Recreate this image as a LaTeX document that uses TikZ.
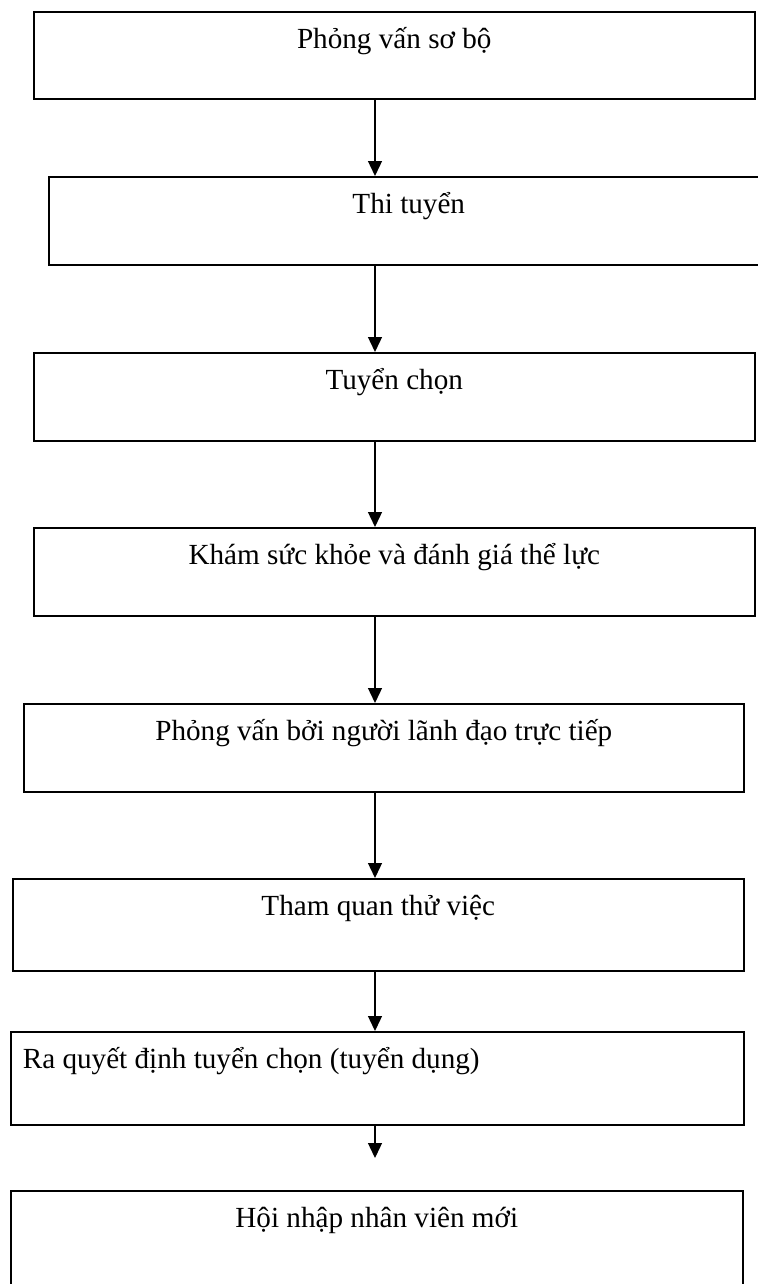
\documentclass[tikz,border=0pt]{standalone}
\usepackage{fontspec}
\setmainfont{Liberation Serif}
\usetikzlibrary{arrows.meta}

\begin{document}
\begin{tikzpicture}[
  x=0.02cm, y=-0.02cm,
  stage/.style={draw, rectangle, line width=0.95pt, inner sep=0pt, anchor=north west,
    text height=0.73cm, font=\fontsize{16.6}{20}\selectfont},
  flow/.style={draw, line width=0.75pt, -{Triangle[length=0.3cm, width=0.28cm]}}
]
\useasboundingbox (0,0) rectangle (757,1284);
\coordinate (axis) at (375,0);
\node[stage, minimum width=14.42cm, text depth=1.01cm] (s1) at (33,11) {Phỏng vấn sơ bộ};
\node[stage, minimum width=14.40cm, text depth=1.03cm] (s2) at (48,176) {Thi tuyển};
\node[stage, minimum width=14.42cm, text depth=1.03cm] (s3) at (33,352) {Tuyển chọn};
\node[stage, minimum width=14.42cm, text depth=1.03cm] (s4) at (33,527) {Khám sức khỏe và đánh giá thể lực};
\node[stage, minimum width=14.40cm, text depth=1.03cm] (s5) at (23,703) {Phỏng vấn bởi người lãnh đạo trực tiếp};
\node[stage, minimum width=14.62cm, text depth=1.11cm] (s6) at (12,878) {Tham quan thử việc};
\node[stage, text width=14.18cm, inner xsep=0.24cm, align=flush left, text depth=1.13cm] (s7) at (10,1031) {Ra quyết định tuyển chọn (tuyển dụng)};
\node[stage, minimum width=14.64cm, text depth=1.26cm] (s8) at (10,1190) {Hội nhập nhân viên mới};
\coordinate (end) at (375,1158);

\draw[flow] (s1.south -| axis) -- (s2.north -| axis);
\draw[flow] (s2.south -| axis) -- (s3.north -| axis);
\draw[flow] (s3.south -| axis) -- (s4.north -| axis);
\draw[flow] (s4.south -| axis) -- (s5.north -| axis);
\draw[flow] (s5.south -| axis) -- (s6.north -| axis);
\draw[flow] (s6.south -| axis) -- (s7.north -| axis);
\draw[flow] (s7.south -| axis) -- (end);
\end{tikzpicture}
\end{document}
